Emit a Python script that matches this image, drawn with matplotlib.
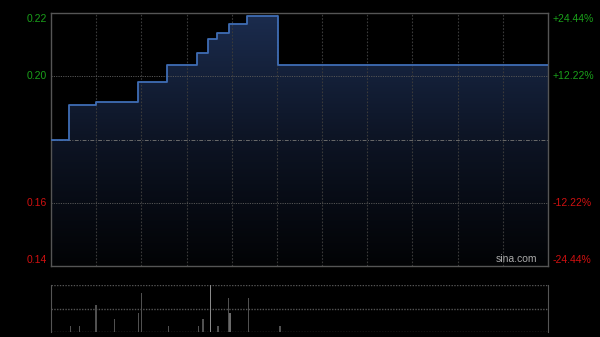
import numpy as np
import matplotlib
matplotlib.use("Agg")
import matplotlib.pyplot as plt
from matplotlib.colors import LinearSegmentedColormap

plt.rcParams['font.family'] = ['Liberation Sans', 'DejaVu Sans']

# ---- data ----
base_price = 0.18
pct_levels = [24.44, 12.22, -12.22, -24.44]
# step points: minute of trading day (0..330) and price from then on
step_minutes = [0, 12, 30, 58, 77, 97, 104, 110, 118, 130, 151, 330]
step_prices = [0.180, 0.192, 0.193, 0.200, 0.206, 0.210, 0.215, 0.217, 0.220, 0.223, 0.206, 0.206]
vol_minutes = [13, 19, 30, 42, 58, 60, 78, 98, 101, 106, 111, 118, 119, 131, 152]
vol_values = [27000, 27000, 116000, 54000, 82000, 167000, 26000, 26000, 54000, 200000,
              26000, 144000, 82000, 144000, 26000]
vol_colors = ['#505050'] * 9 + ['#8a8a8a'] + ['#505050'] * 2 + ['#6a6a6a'] + ['#505050'] * 2
total_minutes = 330

fig = plt.figure(figsize=(6.0, 3.37), dpi=100, facecolor='black')
ax = fig.add_axes([51/600, 1-266/337, 497/600, 253/337], facecolor='black')
axv = fig.add_axes([51/600, 1-332/337, 497/600, 47/337], facecolor='black')

ymax = base_price * (1 + pct_levels[0]/100)
ymin = base_price * (1 + pct_levels[-1]/100)
ax.set_xlim(0, total_minutes)
ax.set_ylim(ymin, ymax)

# gradient fill under the line
cmap = LinearSegmentedColormap.from_list('g', ['#020305', '#0d1424', '#1b2c4e'])
grad = np.linspace(0, 1, 256).reshape(-1, 1)
im = ax.imshow(grad, cmap=cmap, aspect='auto', origin='lower',
               extent=[0, total_minutes, ymin, ymax], zorder=1)
poly = ax.fill_between(step_minutes, step_prices, ymin, step='post', color='none', zorder=1)
im.set_clip_path(poly.get_paths()[0], transform=ax.transData)

ax.plot(step_minutes, step_prices, drawstyle='steps-post', color='#3f6db5', lw=1.3, zorder=3)

# grid
for m in range(30, total_minutes, 30):
    ax.axvline(m, color='#3a3a3a', lw=0.8, ls=(0, (1.5, 1.5)), zorder=2)
for p in pct_levels[1:3]:
    ax.axhline(base_price * (1 + p/100), color='#555555', lw=0.7, ls=(0, (1.2, 1.2)), zorder=2)
ax.axhline(base_price, color='#6a6a6a', lw=0.7, ls=(0, (4, 1.5, 1, 1.5)), zorder=2)

for s in ax.spines.values():
    s.set_color('#555555')
    s.set_linewidth(1.0)
ax.set_xticks([])
ax.set_yticks([])

# labels
fs = 7.5
for i, p in enumerate(pct_levels):
    val = base_price * (1 + p/100)
    col = '#1aa01a' if p > 0 else '#d01010'
    va = 'top' if i == 0 else ('bottom' if i == len(pct_levels)-1 else 'center')
    off = -0.0005 if i == 0 else (0.0005 if i == len(pct_levels)-1 else 0)
    ax.text(-0.008, val + off, f"{val:.2f}", transform=ax.get_yaxis_transform(),
            ha='right', va=va, color=col, fontsize=fs)
    ax.text(1.01, val + off, f"{p:+.2f}%", transform=ax.get_yaxis_transform(),
            ha='left', va=va, color=col, fontsize=fs)

ax.text(0.978, 0.008, 'sina.com', transform=ax.transAxes, ha='right', va='bottom',
        color='#aaaaaa', fontsize=7.5)

# volume panel
axv.set_xlim(0, total_minutes)
axv.set_ylim(0, max(vol_values))
axv.bar(vol_minutes, vol_values, width=1.0, color=vol_colors, zorder=3)
for f in [0, 0.5, 1.0]:
    axv.axhline(max(vol_values) * f, color='#555555', lw=1.0, ls=(0, (1.0, 1.0)), zorder=2)
for side in ['top', 'bottom']:
    axv.spines[side].set_visible(False)
for side in ['left', 'right']:
    axv.spines[side].set_color('#555555')
axv.set_xticks([])
axv.set_yticks([])

fig.savefig('out.png', dpi=100, facecolor='black')
